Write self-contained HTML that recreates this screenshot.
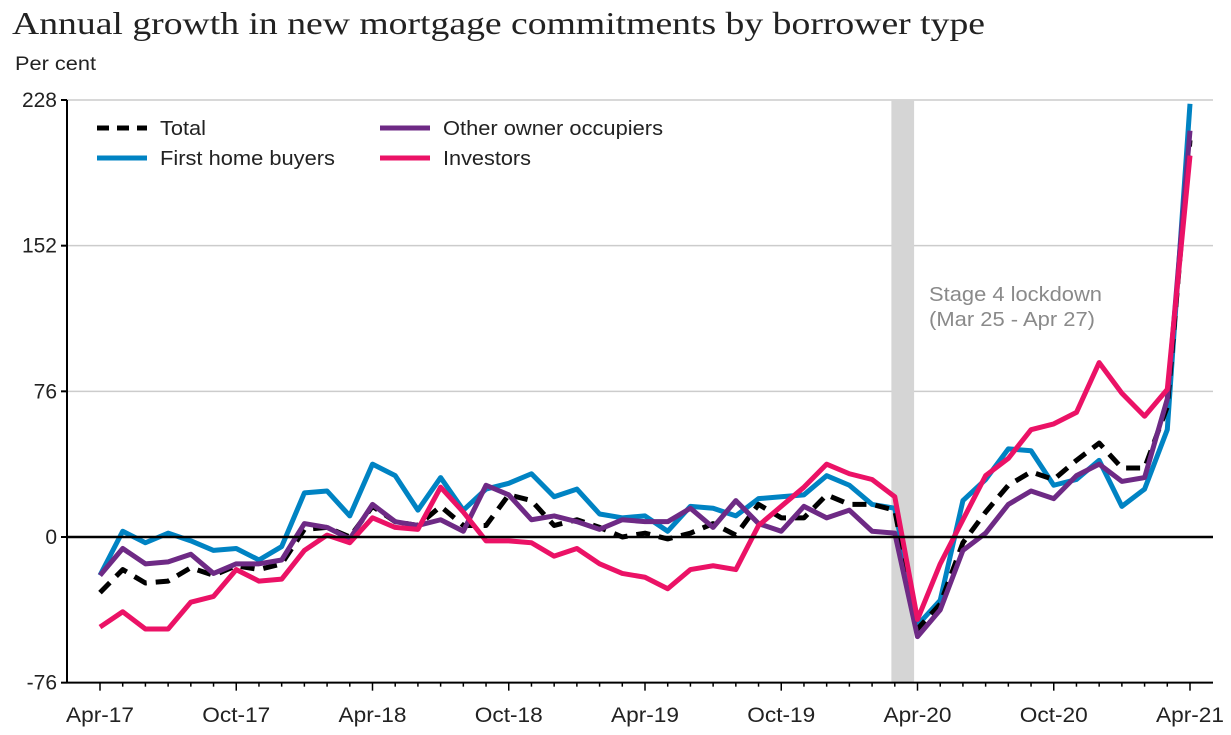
<!DOCTYPE html>
<html><head><meta charset="utf-8"><style>
body{margin:0;background:#fff;}
svg{display:block;font-family:"Liberation Sans",sans-serif;}
</style></head><body>
<svg id="chart" width="1231" height="735">
<text x="12" y="34" font-family="Liberation Serif, serif" font-size="32" fill="#222" textLength="973" lengthAdjust="spacingAndGlyphs">Annual growth in new mortgage commitments by borrower type</text>
<text x="15" y="70" font-size="19" fill="#222" textLength="81" lengthAdjust="spacingAndGlyphs">Per cent</text>
<g id="grid"></g>
<rect id="band" fill="#d5d5d5"></rect>
<text x="929" y="301" font-size="20" fill="#8a8a8a" textLength="173" lengthAdjust="spacingAndGlyphs">Stage 4 lockdown</text>
<text x="929" y="326" font-size="20" fill="#8a8a8a" textLength="166" lengthAdjust="spacingAndGlyphs">(Mar 25 - Apr 27)</text>
<g id="series"></g>
<g id="axes"></g>
<g>
<line x1="97" y1="128" x2="147" y2="128" stroke="#000" stroke-width="5" stroke-dasharray="12,8"/>
<text x="160" y="135" font-size="20" fill="#222" textLength="46" lengthAdjust="spacingAndGlyphs">Total</text>
<line x1="97" y1="158" x2="147" y2="158" stroke="#0083c3" stroke-width="5"/>
<text x="160" y="165" font-size="20" fill="#222" textLength="175" lengthAdjust="spacingAndGlyphs">First home buyers</text>
<line x1="380" y1="128" x2="430" y2="128" stroke="#6e2a85" stroke-width="5"/>
<text x="443" y="135" font-size="20" fill="#222" textLength="220" lengthAdjust="spacingAndGlyphs">Other owner occupiers</text>
<line x1="380" y1="158" x2="430" y2="158" stroke="#eb1266" stroke-width="5"/>
<text x="443" y="165" font-size="20" fill="#222" textLength="88" lengthAdjust="spacingAndGlyphs">Investors</text>
</g>
</svg>
<script>
const xTickLabels=["Apr-17","Oct-17","Apr-18","Oct-18","Apr-19","Oct-19","Apr-20","Oct-20","Apr-21"];
const yTicks=[-76,0,76,152,228];
const total=[-29,-17,-24,-23,-16,-20,-15,-17,-14,4,5,0,16,8,6,16,6,6,22,19,6,9,5,0,2,-1,2,7,1,17,10,10,22,17,17,14,-48,-35,-3,13,27,34,30,40,49,36,36,68,207];
const firstHome=[-20,3,-3,2,-2,-7,-6,-12,-5,23,24,11,38,32,14,31,14,25,28,33,21,25,12,10,11,3,16,15,11,20,21,22,32,27,17,15,-46,-33,19,30,46,45,27,30,40,16,25,56,226];
const otherOwner=[-20,-6,-14,-13,-9,-19,-14,-14,-12,7,5,-1,17,8,6,9,3,27,22,9,11,8,4,9,8,8,15,5,19,7,3,16,10,14,3,2,-52,-38,-7,2,17,24,20,32,38,29,31,72,212];
const investors=[-47,-39,-48,-48,-34,-31,-17,-23,-22,-7,1,-3,10,5,4,26,13,-2,-2,-3,-10,-6,-14,-19,-21,-27,-17,-15,-17,6,16,26,38,33,30,21,-43,-14,9,32,41,56,59,65,91,75,63,77,199];
const bandMonths=[34.85,35.85];

const NS="http://www.w3.org/2000/svg";
const X0=100,X1=1190,Y0=537,YTOP=100,nMonths=48;
const xs=i=>X0+(X1-X0)*i/nMonths;
const ys=v=>Y0-(Y0-YTOP)*v/228;
function mk(tag,attrs,parent){const e=document.createElementNS(NS,tag);for(const k in attrs)e.setAttribute(k,attrs[k]);parent.appendChild(e);return e;}
const grid=document.getElementById('grid'),axes=document.getElementById('axes'),ser=document.getElementById('series');
yTicks.forEach(v=>{
  if(v!==0&&v!==-76){const l=mk('line',{x1:67,x2:1213,y1:ys(v),y2:ys(v),stroke:'#cccccc','stroke-width':1.5},grid);
  
  }
  const t=mk('text',{x:57,y:ys(v)+7,'text-anchor':'end','font-size':21,fill:'#222'},axes);
  t.textContent=v;
  
  
});
const band=document.getElementById('band');
band.setAttribute('x',xs(bandMonths[0]));band.setAttribute('width',xs(bandMonths[1])-xs(bandMonths[0]));
band.setAttribute('y',ys(228));band.setAttribute('height',ys(-76)-ys(228));
const zl=mk('line',{x1:67,x2:1213,y1:ys(0),y2:ys(0),stroke:'#000','stroke-width':2.5},axes);


const ax=mk('line',{x1:67,x2:1213,y1:ys(-76),y2:ys(-76),stroke:'#000','stroke-width':2},axes);


const ay=mk('line',{x1:67,x2:67,y1:ys(228),y2:ys(-76),stroke:'#000','stroke-width':2},axes);


yTicks.forEach(v=>{mk('line',{x1:61,x2:67,y1:ys(v),y2:ys(v),stroke:'#000','stroke-width':2},axes);});
for(let i=0;i<=nMonths;i++){mk('line',{x1:xs(i),x2:xs(i),y1:ys(-76),y2:ys(-76)+(i%6===0?8:4),stroke:'#000','stroke-width':1.5},axes);}
xTickLabels.forEach((s,k)=>{const t=mk('text',{x:xs(k*6),y:722,'text-anchor':'middle','font-size':21,fill:'#222',textLength:68,lengthAdjust:'spacingAndGlyphs'},axes);
  t.textContent=s;
  
  });
function draw(arr,color,name,dash){
  const p=mk('polyline',{points:arr.map((v,i)=>xs(i)+','+ys(v)).join(' '),fill:'none',stroke:color,'stroke-width':5,'stroke-linejoin':'round'},ser);
  if(dash)p.setAttribute('stroke-dasharray','14,9');
  
  
}
draw(firstHome,'#0083c3','first-home-buyers-line');
draw(total,'#000','total-line',true);
draw(otherOwner,'#6e2a85','other-owner-occupiers-line');
draw(investors,'#eb1266','investors-line');
</script>
</body></html>
